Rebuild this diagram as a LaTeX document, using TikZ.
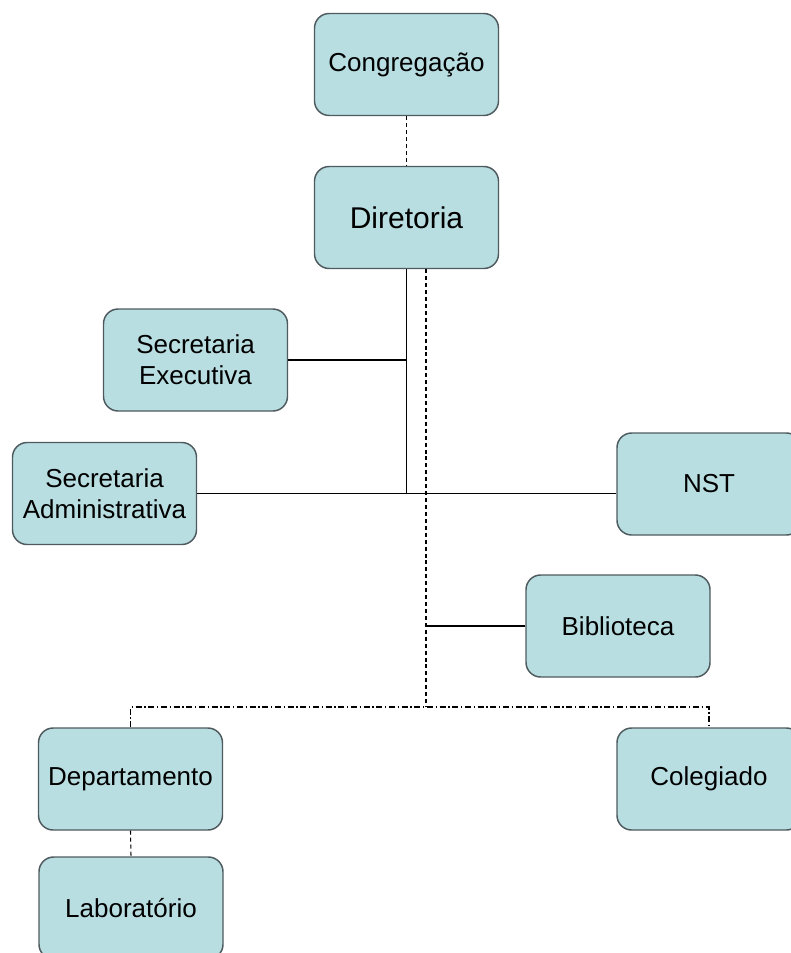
\documentclass[tikz,border=0pt]{standalone}
\usepackage{fontspec}
\setmainfont{Liberation Sans}
\usetikzlibrary{calc, positioning}

\definecolor{boxfill}{RGB}{184,222,226}
\definecolor{boxline}{RGB}{78,90,94}

\begin{document}
\begin{tikzpicture}[x=0.75pt, y=-0.75pt,
  box/.style={draw=boxline, fill=boxfill, line width=1.1pt, rounded corners=11pt,
    minimum width=138pt, minimum height=76.5pt, align=center, inner sep=2pt,
    font=\fontsize{19.5}{23}\selectfont},
  bigbox/.style={box, font=\fontsize{22.5}{26}\selectfont},
  solidline/.style={line width=0.9pt},
  dashline/.style={line width=0.8pt, dash pattern=on 3pt off 2.2pt},
  dotline/.style={line width=0.8pt, dash pattern=on 4.5pt off 2pt on 1pt off 2pt}]
\useasboundingbox (0,0) rectangle (791,953);
\clip (0,0) rectangle (791,953);

\def\splitx{426}
\def\bary{707}

\node[box] (cong) at (406.5,64.5) {Congregação};
\node[bigbox] (dir) at (406.5,217.5) {Diretoria};
\node[box] (secex) at (195.5,360) {Secretaria\\Executiva};
\node[box] (secadm) at (104.5,493.5) {Secretaria\\Administrativa};
\node[box] (nst) at (709,484) {NST};
\node[box] (bib) at (618,626) {Biblioteca};
\node[box] (dep) at (130.5,779) {Departamento};
\node[box] (col) at (709,779) {Colegiado};
\node[box] (lab) at (131,908) {Laboratório};

\coordinate (split) at (\splitx,\bary);

\draw[dashline] (cong) -- (dir);

\draw[solidline] (dir.south) -- (dir.south |- secadm.east);
\draw[solidline] (secex.east) -- (secex.east -| dir.south);
\draw[solidline] (secadm.east) -- (secadm.east -| nst.west);

\draw[dashline] (dir.south -| split) -- (split);
\draw[solidline] (bib.west) -- (bib.west -| split);

\draw[dotline] (dep.north) -- (dep.north |- split) -- (col.north |- split) -- (col.north);
\draw[dashline] (dep.south) -- (lab.north);
\end{tikzpicture}
\end{document}
